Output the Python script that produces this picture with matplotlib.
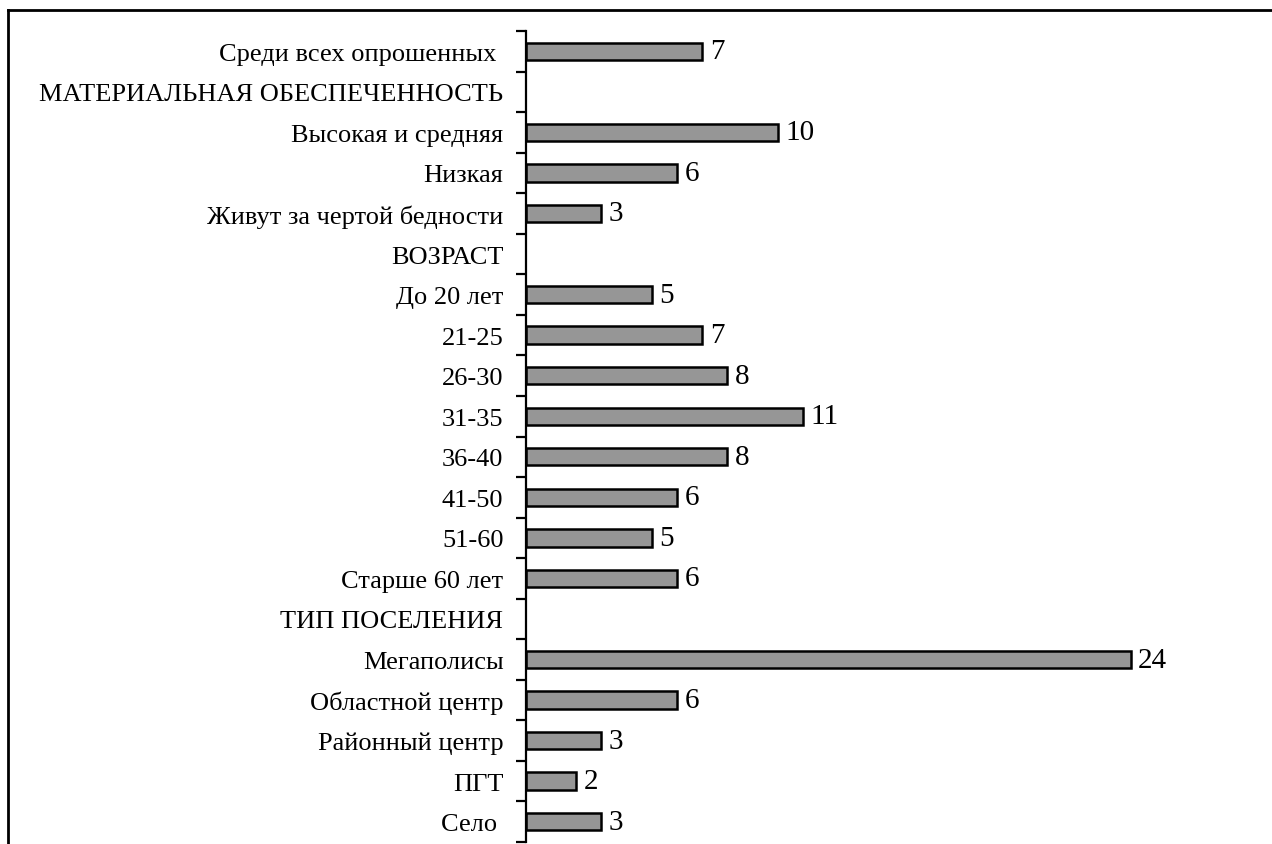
import matplotlib
matplotlib.use("Agg")
import matplotlib.pyplot as plt
from matplotlib.lines import Line2D

plt.rcParams['font.family'] = ['Liberation Serif', 'DejaVu Serif']

categories = [
    "Среди всех опрошенных ",
    "МАТЕРИАЛЬНАЯ ОБЕСПЕЧЕННОСТЬ",
    "Высокая и средняя",
    "Низкая",
    "Живут за чертой бедности",
    "ВОЗРАСТ",
    "До 20 лет",
    "21-25",
    "26-30",
    "31-35",
    "36-40",
    "41-50",
    "51-60",
    "Старше 60 лет",
    "ТИП ПОСЕЛЕНИЯ",
    "Мегаполисы",
    "Областной центр",
    "Районный центр",
    "ПГТ",
    "Село ",
]
values = [7, None, 10, 6, 3, None, 5, 7, 8, 11, 8, 6, 5, 6, None, 24, 6, 3, 2, 3]

W, H = 1272, 845
fig = plt.figure(figsize=(W / 100, H / 100), dpi=100)
ax_left = 525.7 / W
px_per_unit = 25.2
xmax = 29
ax_width = xmax * px_per_unit / W
top_px, bot_px = 32, 843
ax = fig.add_axes([ax_left, (H - bot_px) / H, ax_width, (bot_px - top_px) / H])

n = len(categories)
pos = list(range(n))
for i, v in enumerate(values):
    if v is None:
        continue
    ax.barh(i, v, height=0.43, color='#969696', edgecolor='black', linewidth=1.8)
    ax.text(v + 0.3, i, str(v), va='center', ha='left', fontsize=21)

ax.set_ylim(n - 0.5, -0.5)
ax.set_xlim(0, xmax)
ax.set_yticks(pos)
ax.set_yticklabels(categories, fontsize=19)
ax.set_yticks([p - 0.5 for p in range(n + 1)], minor=True)
ax.tick_params(axis='y', which='major', length=0, pad=16)
ax.tick_params(axis='y', which='minor', length=7, width=1.6, direction='out')
ax.set_xticks([])
for s in ['top', 'right', 'bottom']:
    ax.spines[s].set_visible(False)
ax.spines['left'].set_linewidth(1.6)

# outer frame (cropped chart area border)
fx = 8 / W
fy = (H - 11) / H
fig.add_artist(Line2D([fx, fx], [0, fy], transform=fig.transFigure, color='black', linewidth=2))
fig.add_artist(Line2D([fx, 1], [fy, fy], transform=fig.transFigure, color='black', linewidth=2))

fig.savefig("out.png", dpi=100)
